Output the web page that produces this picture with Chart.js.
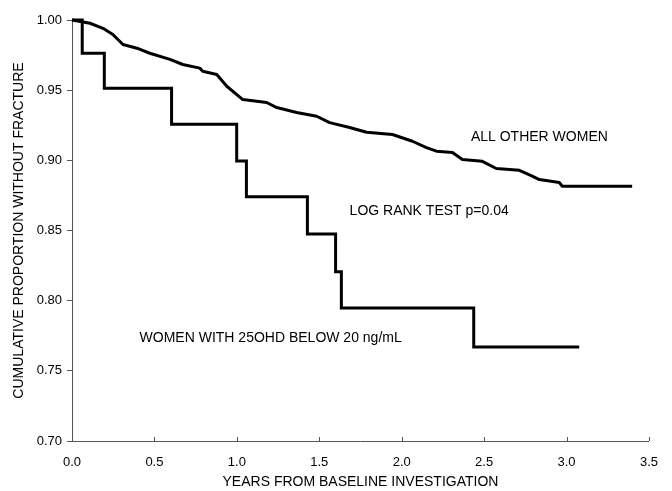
<!DOCTYPE html>
<html>
<head>
<meta charset="utf-8">
<script src="https://cdn.jsdelivr.net/npm/chart.js@4"></script>
<style>
  html, body { margin: 0; padding: 0; background: #fff; }
  #wrap { width: 672px; height: 491px; }
</style>
</head>
<body>
<div id="wrap"><canvas id="myChart" width="672" height="491"></canvas></div>
<script>
// all other women (KM curve, read at its corners)
const otherYears = [0, 0.109, 0.188, 0.248, 0.309, 0.394, 0.472, 0.594, 0.672, 0.775, 0.793, 0.878, 0.939, 1.036,
  1.181, 1.242, 1.363, 1.484, 1.563, 1.684, 1.787, 1.944, 2.065, 2.15, 2.211, 2.308, 2.368, 2.489, 2.574,
  2.714, 2.792, 2.835, 2.956, 2.974, 3.398];
const otherProp = [1.0, 0.9977, 0.9941, 0.9897, 0.9825, 0.9799, 0.9763, 0.9719, 0.9683, 0.9657, 0.9635, 0.9612, 0.9528, 0.9433,
  0.9412, 0.9376, 0.9341, 0.9314, 0.9269, 0.9234, 0.92, 0.9184, 0.9136, 0.9091, 0.9065, 0.9056, 0.9006, 0.8993, 0.8942,
  0.8929, 0.8887, 0.8863, 0.8842, 0.8815, 0.8815];

// women with 25OHD below 20 ng/mL
const lowYears = [0, 0.062, 0.196, 0.604, 0.999, 1.058, 1.428, 1.599, 1.634, 2.437, 3.077];
const lowProp = [1.0, 0.9763, 0.9513, 0.9257, 0.8995, 0.874, 0.8475, 0.8206, 0.7947, 0.767, 0.767];

const xTicks = [0, 0.5, 1.0, 1.5, 2.0, 2.5, 3.0, 3.5];

// text labels placed in data units
const notes = [
  { text: 'ALL OTHER WOMEN', x: 2.42, y: 0.9168 },
  { text: 'LOG RANK TEST p=0.04', x: 1.684, y: 0.8639 },
  { text: 'WOMEN WITH 25OHD BELOW 20 ng/mL', x: 0.41, y: 0.7733 }
];

const fontName = '"Liberation Sans", Arial, sans-serif';
const axisGray = '#555';

function toPoints(xs, ys) {
  let pts = [];
  for (let i = 0; i < xs.length; i++) {
    pts.push({ x: xs[i], y: ys[i] });
  }
  return pts;
}

const extras = {
  id: 'extras',
  afterDraw(chart) {
    const ctx = chart.ctx;
    const x = chart.scales.x;
    const y = chart.scales.y;
    ctx.save();
    // inward ticks on the x axis
    ctx.strokeStyle = axisGray;
    ctx.lineWidth = 1;
    xTicks.forEach(v => {
      const px = Math.round(x.getPixelForValue(v)) + 0.5;
      ctx.beginPath();
      ctx.moveTo(px, y.bottom);
      ctx.lineTo(px, y.bottom - 4);
      ctx.stroke();
    });
    ctx.fillStyle = '#000';
    ctx.font = '14px ' + fontName;
    ctx.textAlign = 'left';
    ctx.textBaseline = 'middle';
    notes.forEach(n => {
      ctx.fillText(n.text, x.getPixelForValue(n.x), y.getPixelForValue(n.y));
    });
    ctx.restore();
  }
};

const data = {
  datasets: [{
    label: 'ALL OTHER WOMEN',
    data: toPoints(otherYears, otherProp),
    borderColor: '#000',
    borderWidth: 3,
    borderJoinStyle: 'round',
    pointRadius: 0,
    tension: 0,
    fill: false,
    clip: 5
  },
  {
    label: 'WOMEN WITH 25OHD BELOW 20 ng/mL',
    data: toPoints(lowYears, lowProp),
    borderColor: '#000',
    borderWidth: 3,
    pointRadius: 0,
    stepped: true,
    fill: false,
    clip: 5
  }]
};

const config = {
  type: 'line',
  data: data,
  options: {
    responsive: false,
    animation: false,
    layout: { padding: { top: 20, right: 22, left: 0, bottom: 0 } },
    plugins: {
      legend: { display: false },
      tooltip: { enabled: false }
    },
    scales: {
      x: {
        type: 'linear',
        min: 0,
        max: 3.5,
        afterFit: s => { s.height = 50; },
        border: { display: true, color: axisGray, width: 1 },
        grid: { drawOnChartArea: false, drawTicks: false },
        ticks: {
          stepSize: 0.5,
          padding: 14,
          color: '#000',
          font: { family: fontName, size: 13 },
          callback: v => v.toFixed(1)
        },
        title: {
          display: true,
          text: 'YEARS FROM BASELINE INVESTIGATION',
          color: '#000',
          font: { family: fontName, size: 14 },
          padding: { top: 0, bottom: 0 }
        }
      },
      y: {
        min: 0.7,
        max: 1.0,
        afterFit: s => { s.width = 72; },
        border: { display: true, color: axisGray, width: 1 },
        grid: { drawOnChartArea: false, drawTicks: true, tickLength: 5, color: axisGray },
        ticks: {
          stepSize: 0.05,
          padding: 5,
          color: '#000',
          font: { family: fontName, size: 13 },
          callback: v => v.toFixed(2)
        },
        title: {
          display: true,
          text: 'CUMULATIVE PROPORTION WITHOUT FRACTURE',
          color: '#000',
          font: { family: fontName, size: 14 },
          padding: { top: 11, bottom: 0 }
        }
      }
    }
  },
  plugins: [extras]
};

const myChart = new Chart(
  document.getElementById('myChart'),
  config
);
</script>
</body>
</html>
